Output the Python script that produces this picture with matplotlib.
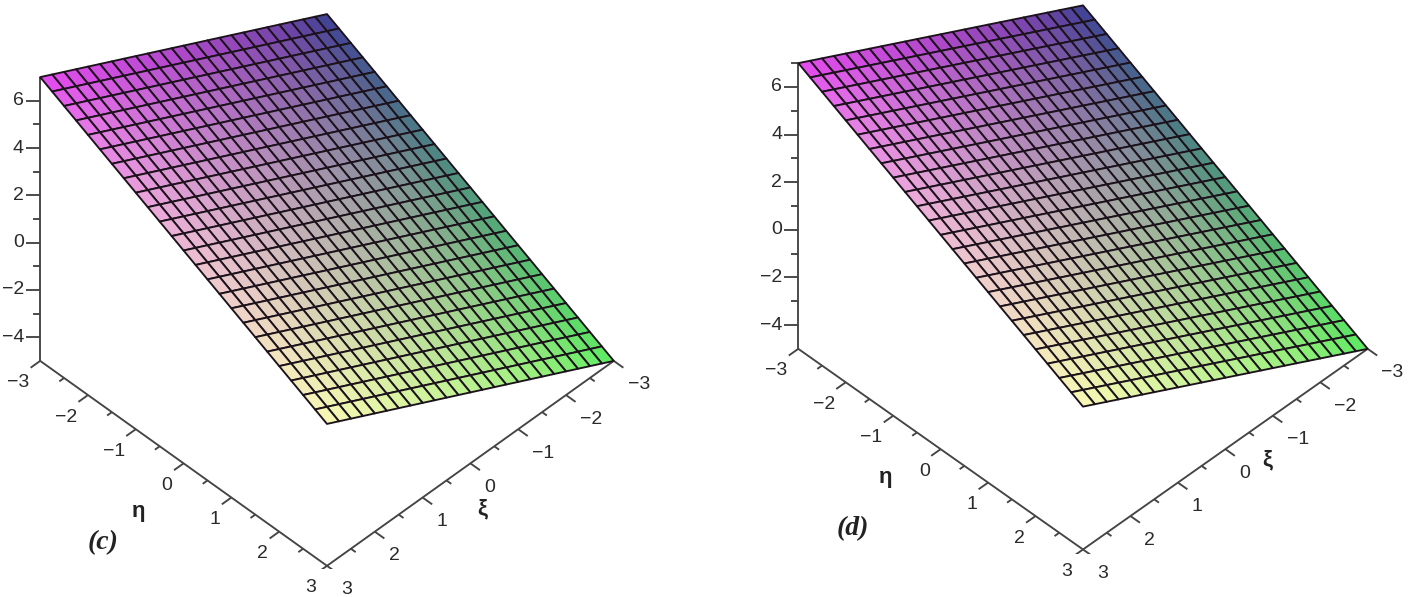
import numpy as np
import matplotlib
matplotlib.use('Agg')
import matplotlib.pyplot as plt

# Grid of the surface (25 x 25 points)
xi = [-3, -2.75, -2.5, -2.25, -2, -1.75, -1.5, -1.25, -1, -0.75, -0.5, -0.25, 0,
      0.25, 0.5, 0.75, 1, 1.25, 1.5, 1.75, 2, 2.25, 2.5, 2.75, 3]
eta = list(xi)

# Surface height, one row per xi value, one column per eta value
z_rows = [
    [1, .75, .5, .25, 0, -.25, -.5, -.75, -1, -1.25, -1.5, -1.75, -2, -2.25, -2.5, -2.75, -3, -3.25, -3.5, -3.75, -4, -4.25, -4.5, -4.75, -5],
    [1.25, 1, .75, .5, .25, 0, -.25, -.5, -.75, -1, -1.25, -1.5, -1.75, -2, -2.25, -2.5, -2.75, -3, -3.25, -3.5, -3.75, -4, -4.25, -4.5, -4.75],
    [1.5, 1.25, 1, .75, .5, .25, 0, -.25, -.5, -.75, -1, -1.25, -1.5, -1.75, -2, -2.25, -2.5, -2.75, -3, -3.25, -3.5, -3.75, -4, -4.25, -4.5],
    [1.75, 1.5, 1.25, 1, .75, .5, .25, 0, -.25, -.5, -.75, -1, -1.25, -1.5, -1.75, -2, -2.25, -2.5, -2.75, -3, -3.25, -3.5, -3.75, -4, -4.25],
    [2, 1.75, 1.5, 1.25, 1, .75, .5, .25, 0, -.25, -.5, -.75, -1, -1.25, -1.5, -1.75, -2, -2.25, -2.5, -2.75, -3, -3.25, -3.5, -3.75, -4],
    [2.25, 2, 1.75, 1.5, 1.25, 1, .75, .5, .25, 0, -.25, -.5, -.75, -1, -1.25, -1.5, -1.75, -2, -2.25, -2.5, -2.75, -3, -3.25, -3.5, -3.75],
    [2.5, 2.25, 2, 1.75, 1.5, 1.25, 1, .75, .5, .25, 0, -.25, -.5, -.75, -1, -1.25, -1.5, -1.75, -2, -2.25, -2.5, -2.75, -3, -3.25, -3.5],
    [2.75, 2.5, 2.25, 2, 1.75, 1.5, 1.25, 1, .75, .5, .25, 0, -.25, -.5, -.75, -1, -1.25, -1.5, -1.75, -2, -2.25, -2.5, -2.75, -3, -3.25],
    [3, 2.75, 2.5, 2.25, 2, 1.75, 1.5, 1.25, 1, .75, .5, .25, 0, -.25, -.5, -.75, -1, -1.25, -1.5, -1.75, -2, -2.25, -2.5, -2.75, -3],
    [3.25, 3, 2.75, 2.5, 2.25, 2, 1.75, 1.5, 1.25, 1, .75, .5, .25, 0, -.25, -.5, -.75, -1, -1.25, -1.5, -1.75, -2, -2.25, -2.5, -2.75],
    [3.5, 3.25, 3, 2.75, 2.5, 2.25, 2, 1.75, 1.5, 1.25, 1, .75, .5, .25, 0, -.25, -.5, -.75, -1, -1.25, -1.5, -1.75, -2, -2.25, -2.5],
    [3.75, 3.5, 3.25, 3, 2.75, 2.5, 2.25, 2, 1.75, 1.5, 1.25, 1, .75, .5, .25, 0, -.25, -.5, -.75, -1, -1.25, -1.5, -1.75, -2, -2.25],
    [4, 3.75, 3.5, 3.25, 3, 2.75, 2.5, 2.25, 2, 1.75, 1.5, 1.25, 1, .75, .5, .25, 0, -.25, -.5, -.75, -1, -1.25, -1.5, -1.75, -2],
    [4.25, 4, 3.75, 3.5, 3.25, 3, 2.75, 2.5, 2.25, 2, 1.75, 1.5, 1.25, 1, .75, .5, .25, 0, -.25, -.5, -.75, -1, -1.25, -1.5, -1.75],
    [4.5, 4.25, 4, 3.75, 3.5, 3.25, 3, 2.75, 2.5, 2.25, 2, 1.75, 1.5, 1.25, 1, .75, .5, .25, 0, -.25, -.5, -.75, -1, -1.25, -1.5],
    [4.75, 4.5, 4.25, 4, 3.75, 3.5, 3.25, 3, 2.75, 2.5, 2.25, 2, 1.75, 1.5, 1.25, 1, .75, .5, .25, 0, -.25, -.5, -.75, -1, -1.25],
    [5, 4.75, 4.5, 4.25, 4, 3.75, 3.5, 3.25, 3, 2.75, 2.5, 2.25, 2, 1.75, 1.5, 1.25, 1, .75, .5, .25, 0, -.25, -.5, -.75, -1],
    [5.25, 5, 4.75, 4.5, 4.25, 4, 3.75, 3.5, 3.25, 3, 2.75, 2.5, 2.25, 2, 1.75, 1.5, 1.25, 1, .75, .5, .25, 0, -.25, -.5, -.75],
    [5.5, 5.25, 5, 4.75, 4.5, 4.25, 4, 3.75, 3.5, 3.25, 3, 2.75, 2.5, 2.25, 2, 1.75, 1.5, 1.25, 1, .75, .5, .25, 0, -.25, -.5],
    [5.75, 5.5, 5.25, 5, 4.75, 4.5, 4.25, 4, 3.75, 3.5, 3.25, 3, 2.75, 2.5, 2.25, 2, 1.75, 1.5, 1.25, 1, .75, .5, .25, 0, -.25],
    [6, 5.75, 5.5, 5.25, 5, 4.75, 4.5, 4.25, 4, 3.75, 3.5, 3.25, 3, 2.75, 2.5, 2.25, 2, 1.75, 1.5, 1.25, 1, .75, .5, .25, 0],
    [6.25, 6, 5.75, 5.5, 5.25, 5, 4.75, 4.5, 4.25, 4, 3.75, 3.5, 3.25, 3, 2.75, 2.5, 2.25, 2, 1.75, 1.5, 1.25, 1, .75, .5, .25],
    [6.5, 6.25, 6, 5.75, 5.5, 5.25, 5, 4.75, 4.5, 4.25, 4, 3.75, 3.5, 3.25, 3, 2.75, 2.5, 2.25, 2, 1.75, 1.5, 1.25, 1, .75, .5],
    [6.75, 6.5, 6.25, 6, 5.75, 5.5, 5.25, 5, 4.75, 4.5, 4.25, 4, 3.75, 3.5, 3.25, 3, 2.75, 2.5, 2.25, 2, 1.75, 1.5, 1.25, 1, .75],
    [7, 6.75, 6.5, 6.25, 6, 5.75, 5.5, 5.25, 5, 4.75, 4.5, 4.25, 4, 3.75, 3.5, 3.25, 3, 2.75, 2.5, 2.25, 2, 1.75, 1.5, 1.25, 1],
]

# Axis ticks
xy_major = [-3, -2, -1, 0, 1, 2, 3]
xy_minor = [-2.5, -1.5, -0.5, 0.5, 1.5, 2.5]
z_major = [-4, -2, 0, 2, 4, 6]
z_minor = [-3, -1, 1, 3, 5]

W, H = 1409, 597
INK = '#2a2a2a'
plt.rcParams['font.family'] = ['Liberation Sans', 'DejaVu Sans']


def corner_colors():
    # colours at the (xi, eta) corners, blended over the grid; the blend is
    # done on powered values because the middle of the sheet stays light
    back = np.array([68, 68, 150]) / 255     # xi -3, eta -3
    right = np.array([98, 242, 98]) / 255    # xi -3, eta 3
    left = np.array([230, 78, 240]) / 255    # xi 3, eta -3
    front = np.array([250, 252, 178]) / 255  # xi 3, eta 3
    g = 2.2
    u = np.linspace(0, 1, len(xi))[:, None, None]
    v = np.linspace(0, 1, len(eta))[None, :, None]
    a = (1 - v) * back + v * right
    b = ((1 - v) * left ** g + v * front ** g) ** (1 / g)
    return ((1 - u) * a ** g + u * b ** g) ** (1 / g)


def fmt(v):
    return str(v).replace('-', '\u2212')


def draw_panel(fig, cx, cy, size, elev, top_tick):
    # cx, cy: pixel position of the centre of the 3D box
    left = cx - size * 0.095 / 0.185
    bottom = (H - cy) - size * 0.095 / 0.185
    ax = fig.add_axes([left / W, bottom / H, size / W, size / H], projection='3d')
    ax.set_proj_type('ortho')
    ax.view_init(elev=elev, azim=45)
    ax.set_box_aspect((1, 1, 1))
    ax.set_xlim(-3, 3, view_margin=0)
    ax.set_ylim(-3, 3, view_margin=0)
    ax.set_zlim(-5, 7, view_margin=0)
    ax.set_axis_off()

    X, Y = np.meshgrid(xi, eta, indexing='ij')
    ax.plot_surface(X, Y, np.array(z_rows), rstride=1, cstride=1, facecolors=corner_colors(),
                    shade=False, edgecolor='#1c121c', linewidth=1.35)

    line = dict(color='#444444', lw=1.35, solid_capstyle='butt')
    # axis lines
    ax.plot([3, 3], [-3, 3], [-5, -5], **line)
    ax.plot([-3, 3], [3, 3], [-5, -5], **line)
    ax.plot([3, 3], [-3, -3], [-5, 7], **line)

    # ticks along eta (pointing to +xi) and xi (pointing to +eta)
    for t in xy_major + xy_minor:
        d = 0.2 if t in xy_major else 0.1
        ax.plot([3, 3 + d], [t, t], [-5, -5], **line)
        ax.plot([t, t], [3, 3 + d], [-5, -5], **line)
    for t in xy_major:
        ax.text(3.23, t, -5.6, fmt(t), ha='right', va='center', color=INK, fontsize=14)
        ax.text(t, 3.29, -5.6, fmt(t), ha='left', va='center', color=INK, fontsize=14)

    # z ticks go straight left on screen
    minors = z_minor + [top_tick] if top_tick is not None else z_minor
    for t in z_major + minors:
        d = 0.15 if t in z_major else 0.08
        ax.plot([3, 3 + d], [-3, -3 - d], [t, t], **line)
    for t in z_major:
        ax.text(3.17, -3.17, t, fmt(t), ha='right', va='center', color=INK, fontsize=14)
    return ax


fig = plt.figure(figsize=(W / 100, H / 100), dpi=100)

draw_panel(fig, 327, 219, 682, 45.6, None)
draw_panel(fig, 1083, 206, 677, 44.8, 7)

# axis names and panel letters
for s, px, py in [('\u03b7', 139, 512), ('\u03be', 482, 509), ('\u03b7', 886, 478), ('\u03be', 1267, 460)]:
    fig.text(px / W, 1 - py / H, s, ha='center', va='center', fontsize=16, fontweight='bold', color='#222222')
for s, px, py in [('(c)', 103, 543), ('(d)', 853, 529)]:
    fig.text(px / W, 1 - py / H, s, ha='center', va='center', fontsize=20, fontweight='bold',
             fontstyle='italic', family='Liberation Serif', color='#222222')

fig.savefig('out.png', dpi=100)
